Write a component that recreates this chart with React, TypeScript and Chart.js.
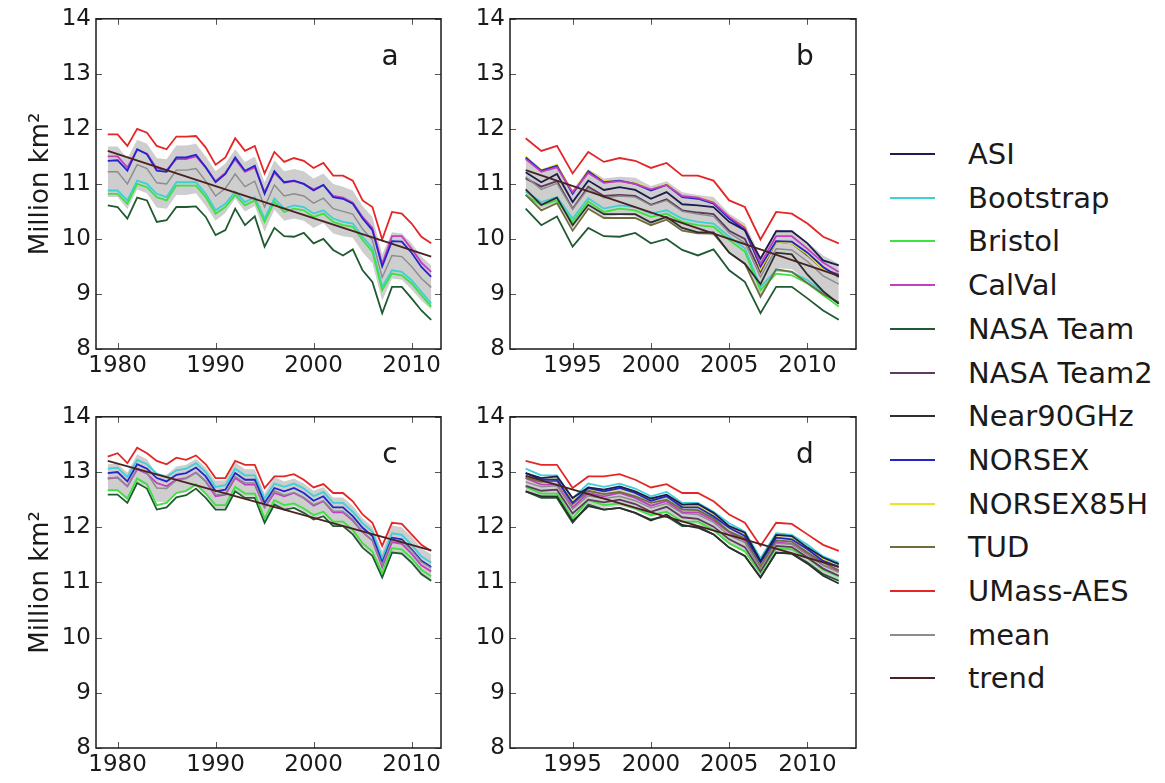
import React, { useEffect, useRef } from 'react';
import { Chart, registerables } from 'chart.js';
Chart.register(...registerables);

// ---------- categories / ticks ----------
const YEARS_LONG = [1979, 1980, 1981, 1982, 1983, 1984, 1985, 1986, 1987, 1988, 1989, 1990, 1991, 1992, 1993, 1994, 1995, 1996, 1997, 1998, 1999, 2000, 2001, 2002, 2003, 2004, 2005, 2006, 2007, 2008, 2009, 2010, 2011, 2012];
const YEARS_SHORT = [1992, 1993, 1994, 1995, 1996, 1997, 1998, 1999, 2000, 2001, 2002, 2003, 2004, 2005, 2006, 2007, 2008, 2009, 2010, 2011, 2012];
const TICKS_LONG = [1980, 1990, 2000, 2010];
const TICKS_SHORT = [1995, 2000, 2005, 2010];
const Y_TICKS = [8, 9, 10, 11, 12, 13, 14];
const SHORT_START = 13; // index of 1992 in YEARS_LONG

// ---------- panel a (1979-2012) ----------
const A_UMASS = [11.90, 11.90, 11.69, 12.00, 11.93, 11.69, 11.63, 11.86, 11.86, 11.87, 11.66, 11.35, 11.48, 11.83, 11.60, 11.69, 11.19, 11.58, 11.40, 11.47, 11.42, 11.29, 11.38, 11.15, 11.15, 11.06, 10.70, 10.58, 9.99, 10.49, 10.46, 10.28, 10.04, 9.92];
const A_NORSEX = [11.42, 11.43, 11.24, 11.63, 11.54, 11.24, 11.22, 11.48, 11.48, 11.53, 11.30, 11.03, 11.18, 11.48, 11.24, 11.33, 10.82, 11.23, 11.03, 11.06, 11.00, 10.88, 10.98, 10.76, 10.73, 10.64, 10.37, 10.16, 9.50, 9.96, 9.95, 9.75, 9.49, 9.31];
const A_CALVAL = [11.50, 11.50, 11.30, 11.62, 11.55, 11.28, 11.25, 11.45, 11.45, 11.50, 11.30, 11.05, 11.20, 11.45, 11.22, 11.30, 10.85, 11.20, 11.02, 11.05, 11.00, 10.90, 10.98, 10.78, 10.75, 10.66, 10.40, 10.20, 9.55, 10.05, 10.05, 9.82, 9.57, 9.40];
const A_MEAN = [11.22, 11.22, 11.00, 11.35, 11.28, 11.02, 11.00, 11.25, 11.25, 11.28, 11.05, 10.78, 10.92, 11.18, 10.95, 11.05, 10.58, 10.98, 10.78, 10.82, 10.78, 10.65, 10.74, 10.55, 10.50, 10.45, 10.18, 9.98, 9.30, 9.70, 9.68, 9.50, 9.28, 9.12];
const A_UPPER = [11.68, 11.68, 11.46, 11.80, 11.73, 11.47, 11.45, 11.70, 11.70, 11.73, 11.50, 11.23, 11.37, 11.63, 11.40, 11.50, 11.03, 11.43, 11.23, 11.27, 11.23, 11.10, 11.19, 11.00, 10.95, 10.88, 10.60, 10.40, 9.72, 10.12, 10.10, 9.92, 9.68, 9.52];
const A_LOWER = [10.76, 10.76, 10.54, 10.90, 10.83, 10.57, 10.55, 10.80, 10.80, 10.83, 10.60, 10.33, 10.47, 10.73, 10.50, 10.60, 10.13, 10.53, 10.33, 10.37, 10.33, 10.20, 10.29, 10.10, 10.05, 10.02, 9.76, 9.56, 8.88, 9.28, 9.26, 9.08, 8.88, 8.72];
const A_BRISTOL = [10.82, 10.82, 10.64, 11.00, 10.94, 10.76, 10.70, 10.97, 10.97, 10.97, 10.76, 10.46, 10.58, 10.80, 10.61, 10.70, 10.31, 10.68, 10.49, 10.55, 10.52, 10.40, 10.46, 10.31, 10.25, 10.22, 9.98, 9.77, 9.07, 9.37, 9.34, 9.19, 8.98, 8.77];
const A_BOOTSTRAP = [10.88, 10.88, 10.70, 11.06, 11.00, 10.82, 10.76, 11.03, 11.03, 11.03, 10.82, 10.52, 10.64, 10.86, 10.67, 10.76, 10.37, 10.74, 10.55, 10.61, 10.58, 10.46, 10.52, 10.37, 10.31, 10.28, 10.04, 9.83, 9.13, 9.43, 9.40, 9.25, 9.04, 8.83];
const A_NASATEAM = [10.61, 10.58, 10.37, 10.75, 10.70, 10.31, 10.34, 10.58, 10.58, 10.59, 10.40, 10.07, 10.16, 10.55, 10.25, 10.41, 9.86, 10.20, 10.05, 10.04, 10.11, 9.92, 10.00, 9.80, 9.70, 9.81, 9.43, 9.22, 8.65, 9.13, 9.13, 8.92, 8.70, 8.53];
const A_TREND_X = [1979, 2012];
const A_TREND = [11.60, 9.68];

// ---------- panel b (1992-2012) ----------
const B_ASI = [11.21, 11.03, 11.18, 10.67, 11.06, 10.89, 10.94, 10.89, 10.73, 10.85, 10.63, 10.61, 10.58, 10.31, 10.16, 9.64, 10.14, 10.14, 9.92, 9.61, 9.52];
const B_NORSEX85H = [11.50, 11.25, 11.35, 10.85, 11.25, 11.05, 11.05, 11.02, 10.90, 11.00, 10.78, 10.75, 10.68, 10.40, 10.22, 9.45, 9.95, 9.92, 9.72, 9.45, 9.30];
const B_TUD = [10.80, 10.52, 10.65, 10.15, 10.55, 10.38, 10.38, 10.38, 10.25, 10.35, 10.15, 10.10, 10.10, 9.75, 9.55, 8.95, 9.45, 9.40, 9.20, 9.00, 8.85];
const B_NEAR90 = [10.90, 10.62, 10.75, 10.25, 10.62, 10.45, 10.45, 10.45, 10.30, 10.40, 10.20, 10.12, 10.12, 9.75, 9.55, 9.18, 9.75, 9.72, 9.35, 9.05, 8.82];
const B_NASATEAM2 = [11.10, 10.95, 11.05, 10.55, 10.95, 10.78, 10.80, 10.78, 10.62, 10.72, 10.52, 10.48, 10.45, 10.15, 10.00, 9.40, 9.95, 9.92, 9.70, 9.45, 9.35];
const B_MEAN = [11.13, 10.90, 11.01, 10.54, 10.92, 10.75, 10.78, 10.76, 10.61, 10.70, 10.50, 10.45, 10.41, 10.11, 9.93, 9.31, 9.82, 9.80, 9.59, 9.33, 9.18];
const B_UPPER = [11.48, 11.25, 11.36, 10.89, 11.27, 11.10, 11.13, 11.11, 10.96, 11.05, 10.85, 10.80, 10.76, 10.46, 10.28, 9.68, 10.17, 10.15, 9.94, 9.70, 9.55];
const B_LOWER = [10.78, 10.55, 10.66, 10.19, 10.57, 10.40, 10.43, 10.41, 10.26, 10.35, 10.15, 10.10, 10.06, 9.76, 9.58, 8.94, 9.47, 9.45, 9.24, 8.96, 8.81];
const B_TREND_X = [1992, 2012];
const B_TREND = [11.25, 9.33];

// ---------- panel c (1979-2012) ----------
const C_UMASS = [13.28, 13.34, 13.16, 13.44, 13.34, 13.20, 13.14, 13.26, 13.22, 13.30, 13.14, 12.89, 12.89, 13.20, 13.13, 13.13, 12.71, 12.92, 12.92, 12.96, 12.86, 12.72, 12.78, 12.62, 12.62, 12.47, 12.23, 12.08, 11.66, 12.08, 12.06, 11.87, 11.68, 11.57];
const C_NORSEX = [12.98, 13.00, 12.83, 13.14, 13.06, 12.89, 12.83, 12.95, 12.98, 13.08, 12.92, 12.65, 12.68, 12.98, 12.86, 12.86, 12.44, 12.71, 12.65, 12.71, 12.62, 12.48, 12.56, 12.36, 12.36, 12.20, 11.99, 11.84, 11.36, 11.81, 11.78, 11.60, 11.39, 11.28];
const C_CALVAL = [12.88, 12.90, 12.74, 13.05, 12.97, 12.80, 12.74, 12.86, 12.89, 12.99, 12.83, 12.56, 12.59, 12.89, 12.77, 12.77, 12.36, 12.62, 12.56, 12.62, 12.53, 12.39, 12.47, 12.27, 12.27, 12.12, 11.91, 11.76, 11.28, 11.73, 11.70, 11.52, 11.31, 11.20];
const C_BOOTSTRAP = [13.06, 13.08, 12.91, 13.22, 13.14, 12.97, 12.91, 13.03, 13.06, 13.16, 13.00, 12.73, 12.76, 13.06, 12.94, 12.94, 12.52, 12.79, 12.73, 12.79, 12.70, 12.56, 12.64, 12.44, 12.44, 12.28, 12.07, 11.92, 11.44, 11.89, 11.86, 11.68, 11.47, 11.36];
const C_NASATEAM = [12.59, 12.59, 12.44, 12.80, 12.70, 12.32, 12.36, 12.54, 12.58, 12.70, 12.53, 12.32, 12.32, 12.65, 12.53, 12.53, 12.08, 12.41, 12.32, 12.35, 12.26, 12.14, 12.20, 12.02, 12.02, 11.87, 11.63, 11.48, 11.09, 11.54, 11.52, 11.36, 11.15, 11.03];
const C_BRISTOL = [12.67, 12.67, 12.52, 12.88, 12.78, 12.40, 12.44, 12.62, 12.66, 12.78, 12.61, 12.40, 12.40, 12.73, 12.61, 12.61, 12.16, 12.49, 12.40, 12.43, 12.34, 12.22, 12.28, 12.10, 12.10, 11.95, 11.71, 11.56, 11.17, 11.62, 11.60, 11.44, 11.23, 11.11];
const C_MEAN = [12.89, 12.90, 12.74, 13.07, 12.98, 12.71, 12.70, 12.85, 12.88, 12.99, 12.83, 12.59, 12.60, 12.92, 12.80, 12.80, 12.36, 12.66, 12.58, 12.63, 12.54, 12.41, 12.48, 12.29, 12.29, 12.14, 11.91, 11.76, 11.32, 11.78, 11.75, 11.58, 11.37, 11.26];
const C_UPPER = [13.14, 13.15, 12.99, 13.32, 13.23, 12.96, 12.95, 13.10, 13.13, 13.24, 13.08, 12.84, 12.85, 13.17, 13.05, 13.05, 12.61, 12.91, 12.83, 12.88, 12.79, 12.66, 12.73, 12.54, 12.54, 12.39, 12.16, 12.01, 11.57, 12.03, 12.00, 11.83, 11.62, 11.51];
const C_LOWER = [12.64, 12.65, 12.49, 12.82, 12.73, 12.46, 12.45, 12.60, 12.63, 12.74, 12.58, 12.34, 12.35, 12.67, 12.55, 12.55, 12.11, 12.41, 12.33, 12.38, 12.29, 12.16, 12.23, 12.04, 12.04, 11.89, 11.66, 11.51, 11.07, 11.53, 11.50, 11.33, 11.12, 11.01];
const C_TREND_X = [1979, 2012];
const C_TREND = [13.20, 11.58];

// ---------- panel d (1992-2012) ----------
const D_ASI = [12.98, 12.89, 12.92, 12.53, 12.72, 12.68, 12.74, 12.65, 12.52, 12.59, 12.41, 12.42, 12.26, 12.02, 11.90, 11.39, 11.86, 11.84, 11.63, 11.45, 11.33];
const D_NEAR90 = [12.65, 12.56, 12.56, 12.11, 12.38, 12.32, 12.35, 12.26, 12.12, 12.23, 12.04, 11.99, 11.87, 11.63, 11.48, 11.09, 11.54, 11.52, 11.34, 11.12, 10.98];
const D_NORSEX85H = [12.93, 12.85, 12.87, 12.48, 12.70, 12.65, 12.70, 12.62, 12.50, 12.56, 12.38, 12.38, 12.22, 11.98, 11.86, 11.35, 11.82, 11.80, 11.60, 11.42, 11.28];
const D_TUD = [12.90, 12.82, 12.84, 12.42, 12.66, 12.60, 12.64, 12.56, 12.44, 12.50, 12.32, 12.31, 12.16, 11.92, 11.80, 11.30, 11.76, 11.74, 11.54, 11.36, 11.22];
const D_NASATEAM2 = [12.75, 12.66, 12.68, 12.25, 12.50, 12.45, 12.50, 12.42, 12.28, 12.37, 12.18, 12.15, 12.01, 11.78, 11.64, 11.20, 11.66, 11.64, 11.45, 11.25, 11.12];
const D_MEAN = [12.82, 12.73, 12.75, 12.33, 12.57, 12.52, 12.56, 12.48, 12.35, 12.43, 12.25, 12.23, 12.09, 11.85, 11.72, 11.25, 11.71, 11.69, 11.50, 11.31, 11.18];
const D_UPPER = [12.99, 12.90, 12.92, 12.50, 12.74, 12.69, 12.73, 12.65, 12.52, 12.60, 12.42, 12.40, 12.26, 12.02, 11.89, 11.42, 11.88, 11.86, 11.67, 11.48, 11.35];
const D_LOWER = [12.65, 12.56, 12.58, 12.16, 12.40, 12.35, 12.39, 12.31, 12.18, 12.26, 12.08, 12.06, 11.92, 11.68, 11.55, 11.08, 11.54, 11.52, 11.33, 11.14, 11.01];
const D_TREND_X = [1992, 2012];
const D_TREND = [12.93, 11.28];

// ---------- legend ----------
const LEGEND_NAMES = ['ASI', 'Bootstrap', 'Bristol', 'CalVal', 'NASA Team', 'NASA Team2', 'Near90GHz', 'NORSEX', 'NORSEX85H', 'TUD', 'UMass-AES', 'mean', 'trend'];
const COLORS: Record<string, string> = {
  'ASI': '#1c1c4e',
  'Bootstrap': '#3fd0d6',
  'Bristol': '#3ee23e',
  'CalVal': '#c23fc2',
  'NASA Team': '#1f5a32',
  'NASA Team2': '#5e3a5e',
  'Near90GHz': '#2e2e2e',
  'NORSEX': '#2424c8',
  'NORSEX85H': '#e6e624',
  'TUD': '#6e6e3c',
  'UMass-AES': '#e42626',
  'mean': '#8c8c8c',
  'trend': '#4a2222',
};

const FONT = '"DejaVu Sans", "Liberation Sans", sans-serif';

const sl = (arr: number[]) => arr.slice(SHORT_START);

const PANELS = [
  {
    letter: 'a', left: 0, top: 0, width: 450, height: 390, yWidth: 96, xHeight: 41, yTitle: true,
    xMin: 1977.8, xMax: 2013.0, xTicks: TICKS_LONG, years: YEARS_LONG,
    upper: A_UPPER, lower: A_LOWER, mean: A_MEAN, trendX: A_TREND_X, trend: A_TREND,
    series: [
      { name: 'NASA Team', values: A_NASATEAM },
      { name: 'Bootstrap', values: A_BOOTSTRAP },
      { name: 'Bristol', values: A_BRISTOL },
      { name: 'CalVal', values: A_CALVAL },
      { name: 'NORSEX', values: A_NORSEX },
      { name: 'UMass-AES', values: A_UMASS },
    ],
  },
  {
    letter: 'b', left: 440, top: 0, width: 425, height: 390, yWidth: 70, xHeight: 41, yTitle: false,
    xMin: 1991.0, xMax: 2013.1, xTicks: TICKS_SHORT, years: YEARS_SHORT,
    upper: B_UPPER, lower: B_LOWER, mean: B_MEAN, trendX: B_TREND_X, trend: B_TREND,
    series: [
      { name: 'NASA Team', values: sl(A_NASATEAM) },
      { name: 'Bootstrap', values: sl(A_BOOTSTRAP) },
      { name: 'Bristol', values: sl(A_BRISTOL) },
      { name: 'TUD', values: B_TUD },
      { name: 'Near90GHz', values: B_NEAR90 },
      { name: 'NASA Team2', values: B_NASATEAM2 },
      { name: 'NORSEX85H', values: B_NORSEX85H },
      { name: 'NORSEX', values: sl(A_NORSEX) },
      { name: 'CalVal', values: sl(A_CALVAL) },
      { name: 'ASI', values: B_ASI },
      { name: 'UMass-AES', values: sl(A_UMASS) },
    ],
  },
  {
    letter: 'c', left: 0, top: 398, width: 450, height: 385, yWidth: 96, xHeight: 35, yTitle: true,
    xMin: 1977.8, xMax: 2013.0, xTicks: TICKS_LONG, years: YEARS_LONG,
    upper: C_UPPER, lower: C_LOWER, mean: C_MEAN, trendX: C_TREND_X, trend: C_TREND,
    series: [
      { name: 'NASA Team', values: C_NASATEAM },
      { name: 'Bristol', values: C_BRISTOL },
      { name: 'CalVal', values: C_CALVAL },
      { name: 'Bootstrap', values: C_BOOTSTRAP },
      { name: 'NORSEX', values: C_NORSEX },
      { name: 'UMass-AES', values: C_UMASS },
    ],
  },
  {
    letter: 'd', left: 440, top: 398, width: 425, height: 385, yWidth: 70, xHeight: 35, yTitle: false,
    xMin: 1991.0, xMax: 2013.1, xTicks: TICKS_SHORT, years: YEARS_SHORT,
    upper: D_UPPER, lower: D_LOWER, mean: D_MEAN, trendX: D_TREND_X, trend: D_TREND,
    series: [
      { name: 'Bristol', values: sl(C_BRISTOL) },
      { name: 'Bootstrap', values: sl(C_BOOTSTRAP) },
      { name: 'CalVal', values: sl(C_CALVAL) },
      { name: 'NASA Team2', values: D_NASATEAM2 },
      { name: 'TUD', values: D_TUD },
      { name: 'NORSEX85H', values: D_NORSEX85H },
      { name: 'NORSEX', values: sl(C_NORSEX) },
      { name: 'NASA Team', values: sl(C_NASATEAM) },
      { name: 'Near90GHz', values: D_NEAR90 },
      { name: 'ASI', values: D_ASI },
      { name: 'UMass-AES', values: sl(C_UMASS) },
    ],
  },
];

const xy = (xs: number[], ys: number[]) => ys.map((v, i) => ({ x: xs[i], y: v }));

const framePlugin = {
  id: 'frame',
  afterDatasetsDraw(chart: any, _args: any, opts: any) {
    const { ctx, chartArea } = chart;
    const { left, right, top, bottom } = chartArea;
    const xs = chart.scales.x;
    const ys = chart.scales.y;
    ctx.save();
    ctx.strokeStyle = '#555';
    ctx.lineWidth = 1;
    ctx.beginPath();
    xs.ticks.forEach((t: any) => {
      const px = Math.round(xs.getPixelForValue(t.value)) + 0.5;
      ctx.moveTo(px, bottom); ctx.lineTo(px, bottom - 6);
      ctx.moveTo(px, top); ctx.lineTo(px, top + 6);
    });
    ys.ticks.forEach((t: any) => {
      const py = Math.round(ys.getPixelForValue(t.value)) + 0.5;
      ctx.moveTo(left, py); ctx.lineTo(left + 6, py);
      ctx.moveTo(right, py); ctx.lineTo(right - 6, py);
    });
    ctx.stroke();
    ctx.strokeStyle = '#1a1a1a';
    ctx.lineWidth = 1.5;
    ctx.strokeRect(left, top, right - left, bottom - top);
    ctx.fillStyle = '#1a1a1a';
    ctx.font = '28px ' + FONT;
    ctx.textAlign = 'center';
    ctx.textBaseline = 'alphabetic';
    ctx.fillText(opts.letter, right - 51, top + 46);
    ctx.restore();
  },
};

function Panel({ p }: { p: any }) {
  const ref = useRef<HTMLCanvasElement>(null);
  useEffect(() => {
    if (!ref.current) return;
    const datasets: any[] = [];
    datasets.push({
      label: 'band-upper', data: xy(p.years, p.upper), borderWidth: 0, pointRadius: 0,
      backgroundColor: 'rgba(165,165,165,0.55)', fill: '+1', order: 20,
    });
    datasets.push({
      label: 'band-lower', data: xy(p.years, p.lower), borderWidth: 0, pointRadius: 0,
      backgroundColor: 'rgba(0,0,0,0)', fill: false, order: 21,
    });
    p.series.forEach((s: any, i: number) => {
      datasets.push({
        label: s.name, data: xy(p.years, s.values), borderColor: COLORS[s.name], borderWidth: 1.8,
        pointRadius: 0, fill: false, order: 10 + (p.series.length - i) * 0.1, tension: 0,
      });
    });
    datasets.push({
      label: 'mean', data: xy(p.years, p.mean), borderColor: COLORS['mean'], borderWidth: 1.4,
      pointRadius: 0, fill: false, order: 2,
    });
    datasets.push({
      label: 'trend', data: xy(p.trendX, p.trend), borderColor: COLORS['trend'], borderWidth: 1.8,
      pointRadius: 0, fill: false, order: 1,
    });

    const chart = new Chart(ref.current, {
      type: 'line',
      data: { datasets },
      plugins: [framePlugin],
      options: {
        animation: false,
        responsive: false,
        devicePixelRatio: 1,
        layout: { padding: { top: 17, right: 9, left: 0, bottom: 0 } },
        plugins: {
          legend: { display: false },
          tooltip: { enabled: false },
          filler: { drawTime: 'beforeDatasetsDraw' },
          frame: { letter: p.letter },
        } as any,
        scales: {
          x: {
            type: 'linear', min: p.xMin, max: p.xMax,
            grid: { display: false, drawTicks: false },
            border: { display: false },
            ticks: {
              color: '#1a1a1a', font: { family: FONT, size: 23 }, padding: 3,
              maxRotation: 0, autoSkip: false,
              callback: (v: any) => String(v),
            },
            afterBuildTicks: (s: any) => { s.ticks = p.xTicks.map((v: number) => ({ value: v })); },
            afterFit: (s: any) => { s.height = p.xHeight; },
          },
          y: {
            type: 'linear', min: 8, max: 14,
            grid: { display: false, drawTicks: false },
            border: { display: false },
            ticks: {
              color: '#1a1a1a', font: { family: FONT, size: 23 }, padding: 5,
              autoSkip: false, callback: (v: any) => String(v),
            },
            afterBuildTicks: (s: any) => { s.ticks = Y_TICKS.map((v) => ({ value: v })); },
            afterFit: (s: any) => { s.width = p.yWidth; },
            title: {
              display: p.yTitle, text: 'Million km²', color: '#1a1a1a',
              font: { family: FONT, size: 26 }, padding: { top: 26, bottom: 0 },
            },
          },
        },
      } as any,
    });
    return () => chart.destroy();
  }, [p]);
  return (
    <canvas
      ref={ref}
      width={p.width}
      height={p.height}
      style={{ position: 'absolute', left: p.left, top: p.top, width: p.width, height: p.height }}
    />
  );
}

export default function App() {
  useEffect(() => {
    document.body.style.margin = '0';
  }, []);
  const rowStart = 154;
  const rowStep = 43.7;
  return (
    <div style={{ position: 'absolute', left: 0, top: 0, width: 1165, height: 783, background: '#fff', overflow: 'hidden' }}>
      {PANELS.map((p) => <Panel key={p.letter} p={p} />)}
      {LEGEND_NAMES.map((name, i) => {
        const cy = rowStart + i * rowStep;
        return (
          <React.Fragment key={name}>
            <div style={{ position: 'absolute', left: 890, top: cy - 1, width: 45, height: 2, background: COLORS[name] }} />
            <div style={{
              position: 'absolute', left: 968, top: cy - 17, height: 34, lineHeight: '34px',
              fontFamily: FONT, fontSize: 29, color: '#1a1a1a', whiteSpace: 'nowrap',
            }}>{name}</div>
          </React.Fragment>
        );
      })}
    </div>
  );
}
